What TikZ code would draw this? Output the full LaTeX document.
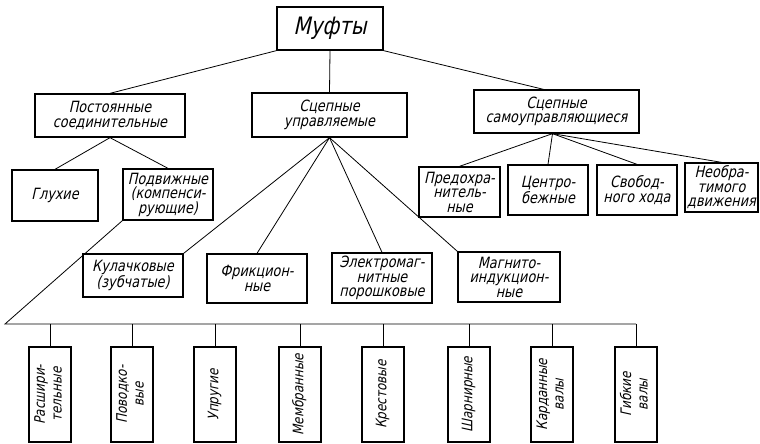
\documentclass[tikz,border=0pt]{standalone}
\usepackage{fontspec}
\newfontfamily\gost{DejaVu Sans Condensed}[FakeSlant=0.22, FakeStretch=0.92]
\usepackage{tikz}

\newcommand{\vtext}[1]{\rotatebox{90}{\begin{tabular}{@{}c@{}}#1\end{tabular}}}

\begin{document}
\begin{tikzpicture}[x = 1pt, y = -1pt, line width = 0.8pt,
                        box/.style = {draw, line width = 1.3pt, align = center, inner sep = 1pt,
                                      font = \gost\fontsize{15.5}{14.5}\selectfont},
                        vbox/.style = {box, minimum width = 42pt, minimum height = 95pt,
                                       font = \gost\fontsize{14.5}{14.5}\selectfont}]
      \useasboundingbox (0, 0) rectangle (760, 444);
      \renewcommand{\arraystretch}{1.15}
      % top level
      \node [box, minimum width = 106pt, minimum height = 43pt, font = \gost\fontsize{24}{24}\selectfont] (muft) at (330, 28.5){Муфты};
      \node [box, minimum width = 150pt, minimum height = 43pt] (post) at (110, 115.5){Постоянные\\соединительные};
      \node [box, minimum width = 155pt, minimum height = 44pt] (upr) at (329.5, 115){Сцепные\\управляемые};
      \node [box, minimum width = 165pt, minimum height = 43pt] (samo) at (556.5, 111.5){Сцепные\\самоуправляющиеся};
      % permanent couplings
      \node [box, minimum width = 86pt, minimum height = 51pt] (gluh) at (55, 195.5){Глухие};
      \node [box, minimum width = 90pt, minimum height = 51pt] (podv) at (168, 194.5){Подвижные\\(компенси-\\рующие)};
      % controlled couplings
      \node [box, minimum width = 100pt, minimum height = 43pt] (kul) at (133, 275.5){Кулачковые\\(зубчатые)};
      \node [box, minimum width = 100pt, minimum height = 49pt] (frik) at (257, 278.5){Фрикцион-\\ные};
      \node [box, minimum width = 100pt, minimum height = 50pt] (elek) at (382, 278){Электромаг-\\нитные\\порошковые};
      \node [box, minimum width = 102pt, minimum height = 50pt] (magn) at (509, 277){Магнито-\\индукцион-\\ные};
      % self-acting couplings
      \node [box, minimum width = 81pt, minimum height = 50pt] (pred) at (459.5, 192){Предохра-\\нитель-\\ные};
      \node [box, minimum width = 80pt, minimum height = 50pt] (centr) at (548, 190){Центро-\\бежные};
      \node [box, minimum width = 80pt, minimum height = 50pt] (svob) at (637, 190){Свобод-\\ного хода};
      \node [box, minimum width = 73pt, minimum height = 49pt] (neobr) at (721.5, 187.5){Необра-\\тимого\\движения};
      % movable couplings
      \node [vbox] (b1) at (50, 394.5){\vtext{Расшири-\\тельные}};
      \node [vbox] (b2) at (132, 394.5){\vtext{Поводко-\\вые}};
      \node [vbox] (b3) at (215, 394.5){\vtext{Упругие}};
      \node [vbox] (b4) at (300, 394.5){\vtext{Мембранные}};
      \node [vbox] (b5) at (383, 394.5){\vtext{Крестовые}};
      \node [vbox] (b6) at (469, 394.5){\vtext{Шарнирные}};
      \node [vbox] (b7) at (552, 394.5){\vtext{Карданные\\валы}};
      \node [vbox] (b8) at (636, 394.5){\vtext{Гибкие\\валы}};
      \coordinate (bend) at (5, 324);
      \draw (muft.south west) -- (post.north); \draw (muft.south) -- (upr.north); \draw (muft.south east) -- ([xshift = -13pt]samo.north);
      \draw (post.south) -- (gluh.north); \draw (post.south) -- (podv.north);
      \draw (upr.south) -- (kul.north east); \draw (upr.south) -- (frik.north); \draw (upr.south) -- (elek.north); \draw (upr.south) -- (magn.north west);
      \draw ([xshift = -4pt]samo.south) -- (pred.north); \draw ([xshift = -4pt]samo.south) -- (centr.north);
      \draw ([xshift = -4pt]samo.south) -- (svob.north); \draw ([xshift = -4pt]samo.south) -- (neobr.north);
      \draw (podv.south west) -- (bend) -- (bend -| b8.north);
      \draw (bend -| b1.north) -- (b1.north); \draw (bend -| b2.north) -- (b2.north);
      \draw (bend -| b3.north) -- (b3.north); \draw (bend -| b4.north) -- (b4.north);
      \draw (bend -| b5.north) -- (b5.north); \draw (bend -| b6.north) -- (b6.north);
      \draw (bend -| b7.north) -- (b7.north); \draw (bend -| b8.north) -- (b8.north);
    \end{tikzpicture}
\end{document}
